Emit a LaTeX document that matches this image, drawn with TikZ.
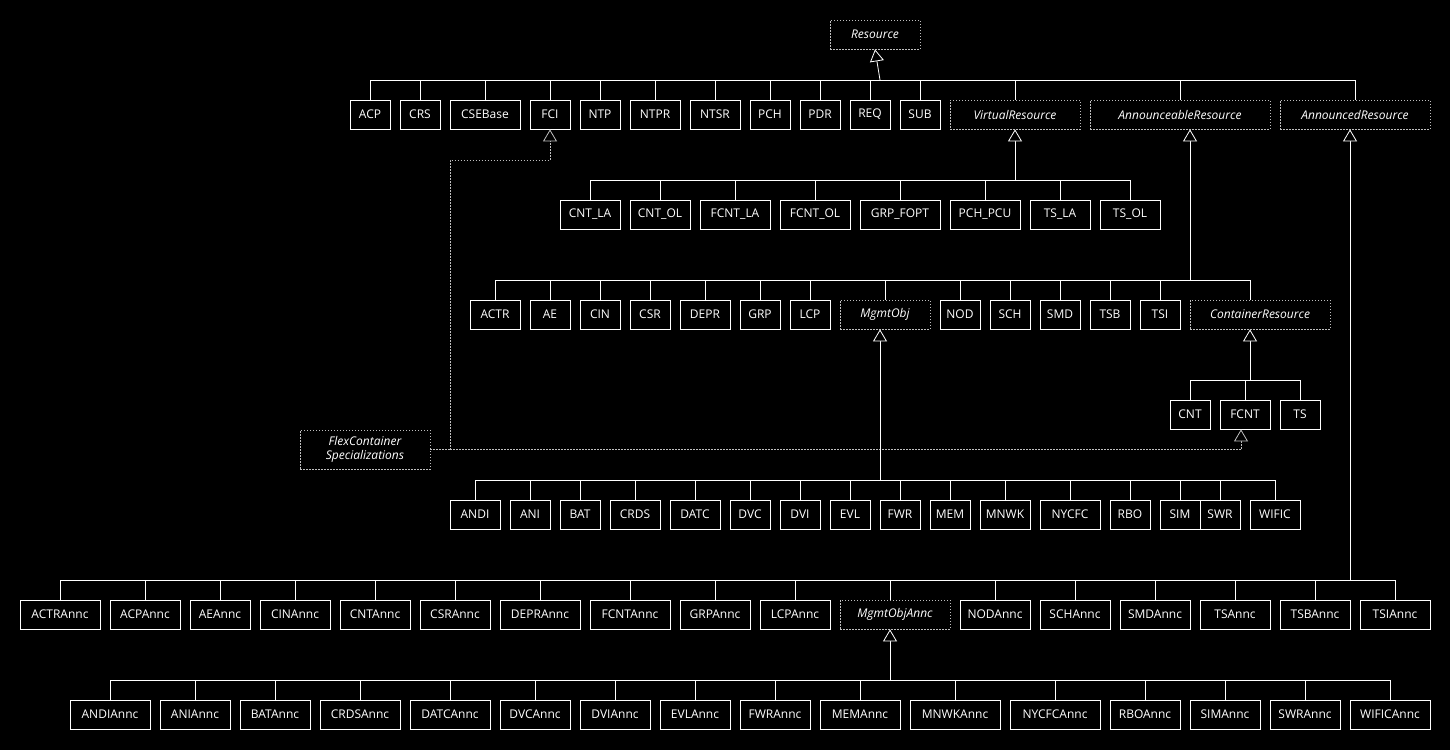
\documentclass[tikz,border=0pt]{standalone}
\usepackage{fontspec}
\setmainfont{Open Sans}
\usetikzlibrary{arrows.meta}
\newcommand\mk[6][cls]{\node[#1,minimum width={(#4-#3)*1pt}] (#2) at ({(#3+#4)/2},{#5+14.5}) {#6};}
\begin{document}
\begin{tikzpicture}[x=1pt,y=-1pt,
  cls/.style={draw=white,line width=0.8pt,text=white,minimum height=29pt,inner sep=0pt,font=\fontsize{12}{14}\selectfont},
  abs/.style={cls,draw=white!75!black,dash pattern=on 1.5pt off 1.5pt,font=\fontsize{12}{14}\selectfont\itshape},
  ln/.style={draw=white,line width=0.8pt},
  inh/.style={ln,-{Triangle[open,width=14pt,length=12pt,fill=black]}},
  dep/.style={draw=white!75!black,line width=0.8pt,dash pattern=on 1.5pt off 1.5pt}]
\fill[black] (0,0) rectangle (1450,750);
\useasboundingbox (0,0) rectangle (1450,750);
% row 1
\mk[abs]{Resource}{830}{920}{20}{Resource}
% row 2
\mk{ACP}{350}{390}{100}{ACP}
\mk{CRS}{400}{440}{100}{CRS}
\mk{CSEBase}{450}{520}{100}{CSEBase}
\mk{FCI}{530}{570}{100}{FCI}
\mk{NTP}{580}{620}{100}{NTP}
\mk{NTPR}{630}{680}{100}{NTPR}
\mk{NTSR}{690}{740}{100}{NTSR}
\mk{PCH}{750}{790}{100}{PCH}
\mk{PDR}{800}{840}{100}{PDR}
\mk{REQ}{850}{890}{100}{REQ}
\mk{SUB}{900}{940}{100}{SUB}
\mk[abs]{VR}{950}{1080}{100}{VirtualResource}
\mk[abs]{AR}{1090}{1270}{100}{AnnounceableResource}
\mk[abs]{ADR}{1280}{1430}{100}{AnnouncedResource}
\coordinate (b1) at (880,80);
\draw[inh] (b1) -- (Resource.south);
\foreach \n in {ACP,CRS,CSEBase,FCI,NTP,NTPR,NTSR,PCH,PDR,REQ,SUB,VR,AR,ADR} \draw[ln] (\n.north) |- (b1);
% row 3
\mk{CNTLA}{560}{620}{200}{CNT\_LA}
\mk{CNTOL}{630}{690}{200}{CNT\_OL}
\mk{FCNTLA}{700}{770}{200}{FCNT\_LA}
\mk{FCNTOL}{780}{850}{200}{FCNT\_OL}
\mk{GRPFOPT}{860}{940}{200}{GRP\_FOPT}
\mk{PCHPCU}{950}{1020}{200}{PCH\_PCU}
\mk{TSLA}{1030}{1090}{200}{TS\_LA}
\mk{TSOL}{1100}{1160}{200}{TS\_OL}
\coordinate (b2) at (1015,180);
\draw[inh] (b2) -- (VR.south);
\foreach \n in {CNTLA,CNTOL,FCNTLA,FCNTOL,GRPFOPT,PCHPCU,TSLA,TSOL} \draw[ln] (\n.north) |- (b2);
% row 4
\mk{ACTR}{470}{520}{300}{ACTR}
\mk{AE}{530}{570}{300}{AE}
\mk{CIN}{580}{620}{300}{CIN}
\mk{CSR}{630}{670}{300}{CSR}
\mk{DEPR}{680}{730}{300}{DEPR}
\mk{GRP}{740}{780}{300}{GRP}
\mk{LCP}{790}{830}{300}{LCP}
\mk[abs]{MO}{840}{930}{300}{MgmtObj}
\mk{NOD}{940}{980}{300}{NOD}
\mk{SCH}{990}{1030}{300}{SCH}
\mk{SMD}{1040}{1080}{300}{SMD}
\mk{TSB}{1090}{1130}{300}{TSB}
\mk{TSI}{1140}{1180}{300}{TSI}
\mk[abs]{CR}{1190}{1330}{300}{ContainerResource}
\coordinate (b3) at (1190,280);
\draw[inh] (b3) -- (b3 |- AR.south);
\foreach \n in {ACTR,AE,CIN,CSR,DEPR,GRP,LCP,MO,NOD,SCH,SMD,TSB,TSI} \draw[ln] (\n.north) |- (b3);
\draw[ln] (1250,300) |- (b3);
% row 5
\mk{CNT}{1170}{1210}{400}{CNT}
\mk{FCNT}{1220}{1270}{400}{FCNT}
\mk{TS}{1280}{1320}{400}{TS}
\coordinate (b4) at (1250,380);
\draw[inh] (b4) -- (b4 |- CR.south);
\foreach \n in {CNT,FCNT,TS} \draw[ln] (\n.north) |- (b4);
% flex
\node[abs,minimum width=130pt,minimum height=39pt,align=center,font=\fontsize{12}{14}\selectfont\itshape] (FS) at (365,449.5) {FlexContainer\\Specializations};
\coordinate (fj) at (450,449.5);
\coordinate (fk) at (450,160);
\draw[dep] (FS.east) -- (fj);
\draw[dep,-{Triangle[open,width=14pt,length=12pt,fill=black]}] (fj) -| ([xshift=-4pt]FCNT.south);
\draw[dep,-{Triangle[open,width=14pt,length=12pt,fill=black]}] (fj) -- (fk) -| (FCI.south);
% row 6
\mk{ANDI}{450}{500}{500}{ANDI}
\mk{ANI}{510}{550}{500}{ANI}
\mk{BAT}{560}{600}{500}{BAT}
\mk{CRDS}{610}{660}{500}{CRDS}
\mk{DATC}{670}{720}{500}{DATC}
\mk{DVC}{730}{770}{500}{DVC}
\mk{DVI}{780}{820}{500}{DVI}
\mk{EVL}{830}{870}{500}{EVL}
\mk{FWR}{880}{920}{500}{FWR}
\mk{MEM}{930}{970}{500}{MEM}
\mk{MNWK}{980}{1030}{500}{MNWK}
\mk{NYCFC}{1040}{1100}{500}{NYCFC}
\mk{RBO}{1110}{1150}{500}{RBO}
\mk{SIM}{1160}{1200}{500}{SIM}
\mk{SWR}{1200}{1240}{500}{SWR}
\mk{WIFIC}{1250}{1300}{500}{WIFIC}
\coordinate (b5) at (880,480);
\draw[inh] (b5) -- (b5 |- MO.south);
\foreach \n in {ANDI,ANI,BAT,CRDS,DATC,DVC,DVI,EVL,FWR,MEM,MNWK,NYCFC,RBO,SIM,SWR,WIFIC} \draw[ln] (\n.north) |- (b5);
% row 7
\mk{ACTRAnnc}{20}{100}{600}{ACTRAnnc}
\mk{ACPAnnc}{110}{180}{600}{ACPAnnc}
\mk{AEAnnc}{190}{250}{600}{AEAnnc}
\mk{CINAnnc}{260}{330}{600}{CINAnnc}
\mk{CNTAnnc}{340}{410}{600}{CNTAnnc}
\mk{CSRAnnc}{420}{490}{600}{CSRAnnc}
\mk{DEPRAnnc}{500}{580}{600}{DEPRAnnc}
\mk{FCNTAnnc}{590}{670}{600}{FCNTAnnc}
\mk{GRPAnnc}{680}{750}{600}{GRPAnnc}
\mk{LCPAnnc}{760}{830}{600}{LCPAnnc}
\mk[abs]{MOA}{840}{950}{600}{MgmtObjAnnc}
\mk{NODAnnc}{960}{1030}{600}{NODAnnc}
\mk{SCHAnnc}{1040}{1110}{600}{SCHAnnc}
\mk{SMDAnnc}{1120}{1190}{600}{SMDAnnc}
\mk{TSAnnc}{1200}{1270}{600}{TSAnnc}
\mk{TSBAnnc}{1280}{1350}{600}{TSBAnnc}
\mk{TSIAnnc}{1360}{1430}{600}{TSIAnnc}
\coordinate (b6) at (1350,580);
\draw[inh] (b6) -- (b6 |- ADR.south);
\foreach \n in {ACTRAnnc,ACPAnnc,AEAnnc,CINAnnc,CNTAnnc,CSRAnnc,DEPRAnnc,FCNTAnnc,GRPAnnc,LCPAnnc,NODAnnc,SCHAnnc,SMDAnnc,TSAnnc,TSBAnnc,TSIAnnc} \draw[ln] (\n.north) |- (b6);
\draw[ln] (890,600) |- (b6);
% row 8
\mk{ANDIAnnc}{70}{150}{700}{ANDIAnnc}
\mk{ANIAnnc}{160}{230}{700}{ANIAnnc}
\mk{BATAnnc}{240}{310}{700}{BATAnnc}
\mk{CRDSAnnc}{320}{400}{700}{CRDSAnnc}
\mk{DATCAnnc}{410}{490}{700}{DATCAnnc}
\mk{DVCAnnc}{500}{570}{700}{DVCAnnc}
\mk{DVIAnnc}{580}{650}{700}{DVIAnnc}
\mk{EVLAnnc}{660}{730}{700}{EVLAnnc}
\mk{FWRAnnc}{740}{810}{700}{FWRAnnc}
\mk{MEMAnnc}{820}{900}{700}{MEMAnnc}
\mk{MNWKAnnc}{910}{1000}{700}{MNWKAnnc}
\mk{NYCFCAnnc}{1010}{1100}{700}{NYCFCAnnc}
\mk{RBOAnnc}{1110}{1180}{700}{RBOAnnc}
\mk{SIMAnnc}{1190}{1260}{700}{SIMAnnc}
\mk{SWRAnnc}{1270}{1340}{700}{SWRAnnc}
\mk{WIFICAnnc}{1350}{1430}{700}{WIFICAnnc}
\coordinate (b7) at (890,680);
\draw[inh] (b7) -- (b7 |- MOA.south);
\foreach \n in {ANDIAnnc,ANIAnnc,BATAnnc,CRDSAnnc,DATCAnnc,DVCAnnc,DVIAnnc,EVLAnnc,FWRAnnc,MEMAnnc,MNWKAnnc,NYCFCAnnc,RBOAnnc,SIMAnnc,SWRAnnc,WIFICAnnc} \draw[ln] (\n.north) |- (b7);
\end{tikzpicture}
\end{document}
